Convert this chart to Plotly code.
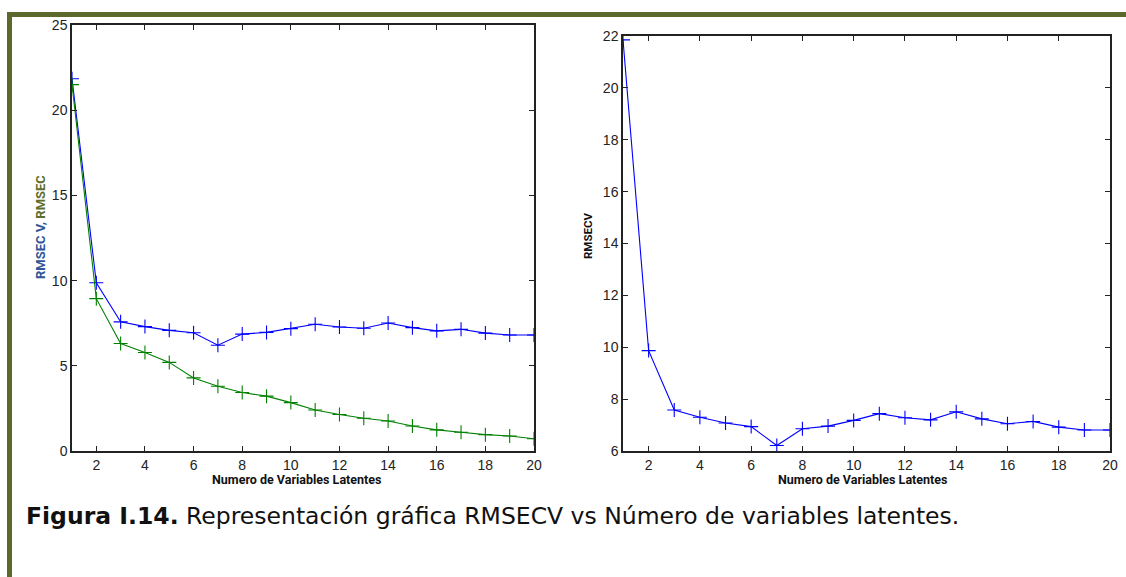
import plotly.graph_objects as go

latent_vars = list(range(1, 21))
rmsecv = [21.85, 9.87, 7.58, 7.30, 7.08, 6.94, 6.21, 6.86, 6.96, 7.18,
          7.44, 7.28, 7.20, 7.51, 7.24, 7.05, 7.14, 6.92, 6.81, 6.81]
rmsec = [21.5, 8.94, 6.31, 5.78, 5.20, 4.29, 3.80, 3.43, 3.22, 2.84,
         2.41, 2.14, 1.92, 1.76, 1.47, 1.24, 1.10, 0.96, 0.88, 0.72]
x_ticks = [2, 4, 6, 8, 10, 12, 14, 16, 18, 20]
left_y_ticks = [0, 5, 10, 15, 20, 25]
right_y_ticks = [6, 8, 10, 12, 14, 16, 18, 20, 22]

W, H = 1126, 577
BLUE = "#0000FF"
GREEN = "#008000"
OLIVE = "#5B6A2C"

def px(x):
    return x / W

def py(y):
    return 1 - y / H

def mk(color):
    return dict(symbol="cross-thin", size=10, color=color,
                line=dict(width=1.1, color=color))

fig = go.Figure()
fig.add_trace(go.Scatter(x=latent_vars, y=rmsecv, mode="lines+markers",
                         line=dict(color=BLUE, width=1.1), marker=mk(BLUE),
                         xaxis="x", yaxis="y"))
fig.add_trace(go.Scatter(x=latent_vars, y=rmsec, mode="lines+markers",
                         line=dict(color=GREEN, width=1.1), marker=mk(GREEN),
                         xaxis="x", yaxis="y"))
fig.add_trace(go.Scatter(x=latent_vars, y=rmsecv, mode="lines+markers",
                         line=dict(color=BLUE, width=1.1), marker=mk(BLUE),
                         xaxis="x2", yaxis="y2"))

axis_common = dict(showline=True, linecolor="#222", linewidth=1.5, mirror="ticks",
                   ticks="inside", ticklen=5, tickcolor="#222", tickwidth=1,
                   showgrid=False, zeroline=False, automargin=False,
                   tickfont=dict(family="Liberation Sans, Arial", size=14, color="#222"))

fig.update_layout(
    width=W, height=H,
    margin=dict(l=0, r=0, t=0, b=0, pad=0, autoexpand=False),
    paper_bgcolor="white", plot_bgcolor="white", showlegend=False,
    xaxis=dict(domain=[px(72), px(534)], range=[1, 20], tickvals=x_ticks,
               anchor="y", **axis_common),
    yaxis=dict(domain=[py(451), py(25)], range=[0, 25], tickvals=left_y_ticks,
               anchor="x", **axis_common),
    xaxis2=dict(domain=[px(623), px(1110)], range=[1, 20], tickvals=x_ticks,
                anchor="y2", **axis_common),
    yaxis2=dict(domain=[py(451), py(36)], range=[6, 22], tickvals=right_y_ticks,
                anchor="x2", **axis_common),
)

shapes = [
    dict(type="rect", xref="paper", yref="paper", x0=px(7), x1=1, y0=py(17), y1=py(12),
         fillcolor=OLIVE, line=dict(width=0)),
    dict(type="rect", xref="paper", yref="paper", x0=px(7), x1=px(12), y0=0, y1=py(12),
         fillcolor=OLIVE, line=dict(width=0)),
]
fig.update_layout(shapes=shapes)

title_font = dict(family="Roboto, Open Sans, sans-serif", size=12.5, color="#111")
annotations = [
    dict(text="<b>Numero de Variables Latentes</b>", x=px(296), y=py(479),
         xref="paper", yref="paper", showarrow=False, font=title_font,
         xanchor="center", yanchor="middle"),
    dict(text="<b>Numero de Variables Latentes</b>", x=px(862), y=py(479),
         xref="paper", yref="paper", showarrow=False, font=title_font,
         xanchor="center", yanchor="middle"),
    dict(text="<b><span style='color:#2E5597'>RMSEC V, </span><span style='color:#5E6E2B'>RMSEC</span></b>",
         x=px(40), y=py(227), xref="paper", yref="paper", showarrow=False,
         textangle=-90, font=dict(family="Roboto, Open Sans, sans-serif", size=13),
         xanchor="center", yanchor="middle"),
    dict(text="<b>RMSECV</b>", x=px(588), y=py(236), xref="paper", yref="paper",
         showarrow=False, textangle=-90,
         font=dict(family="Roboto, Open Sans, sans-serif", size=11.5, color="#111"),
         xanchor="center", yanchor="middle"),
    dict(text="<b>Figura I.14.</b> Representación gráfica RMSECV vs Número de variables latentes.",
         x=px(24), y=py(516), xref="paper", yref="paper", showarrow=False,
         font=dict(family="DejaVu Sans", size=23.5, color="#111"),
         xanchor="left", yanchor="middle"),
]
fig.update_layout(annotations=annotations)

fig.write_html("out.html")
